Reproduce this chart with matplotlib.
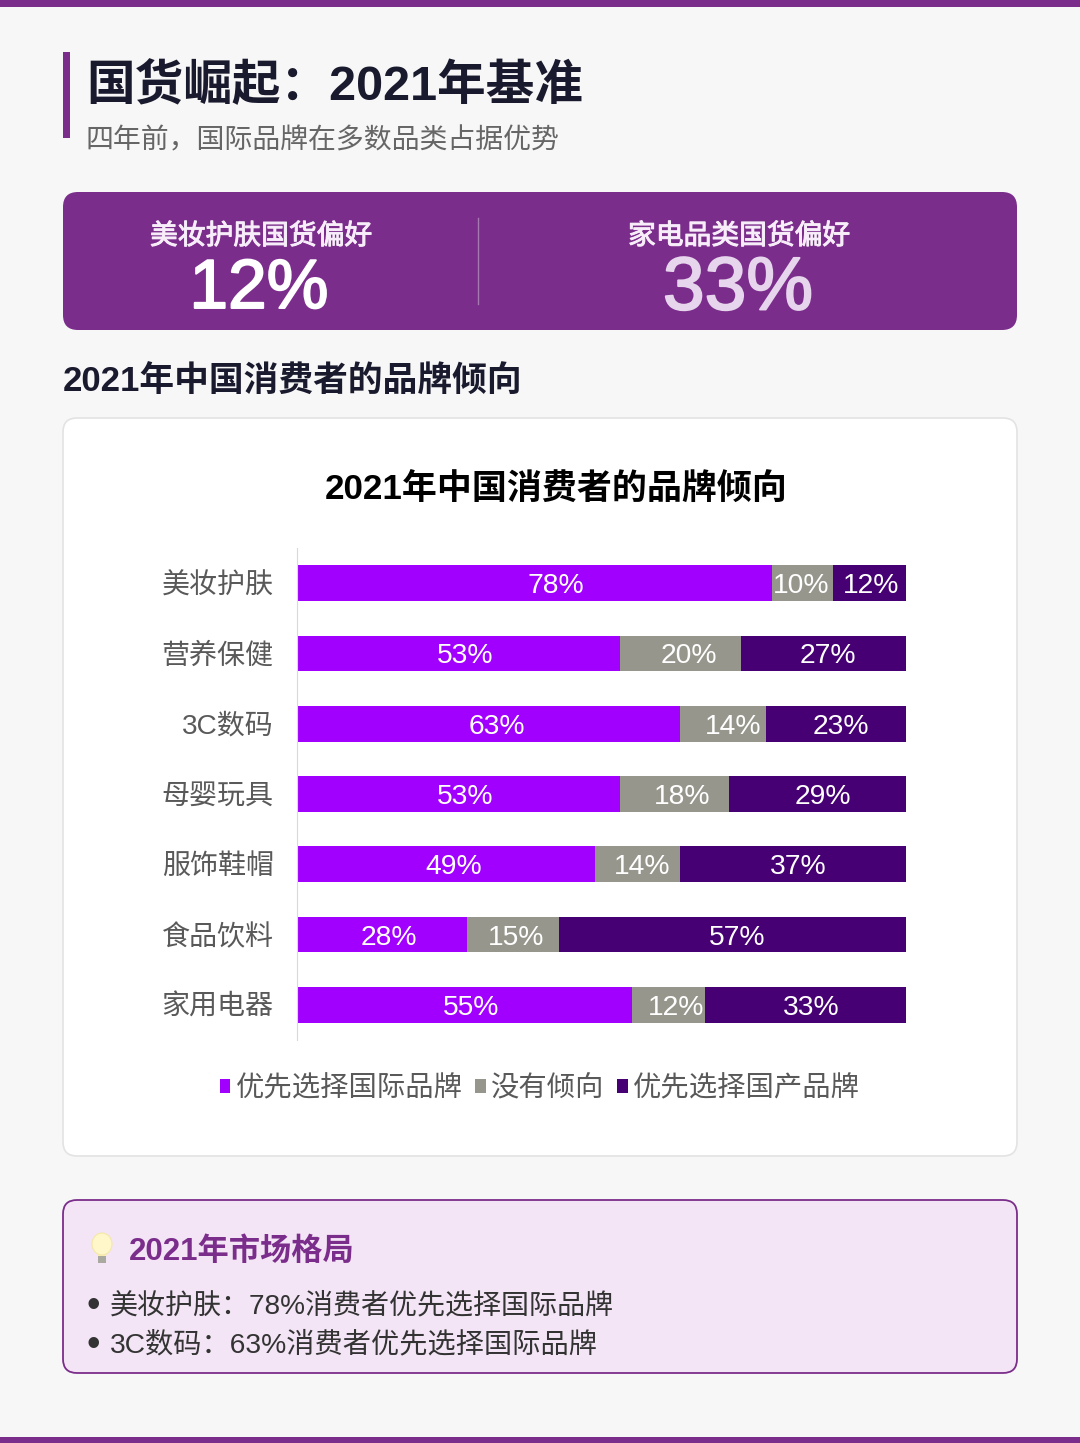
import matplotlib
matplotlib.use('Agg')
import matplotlib.patheffects as pe
import matplotlib.pyplot as plt
from matplotlib.patches import Ellipse, FancyBboxPatch, Polygon, Rectangle

plt.rcParams['font.family'] = ['Liberation Sans', 'Noto Sans CJK SC', 'DejaVu Sans']

categories = ['美妆护肤', '营养保健', '3C数码', '母婴玩具', '服饰鞋帽', '食品饮料', '家用电器']
international = [78, 53, 63, 53, 49, 28, 55]
neutral = [10, 20, 14, 18, 14, 15, 12]
domestic = [12, 27, 23, 29, 37, 57, 33]
series_names = ['优先选择国际品牌', '没有倾向', '优先选择国产品牌']
series_colors = ['#A100FF', '#96968C', '#460073']

PURPLE = '#7B2D8B'
DARK = '#1A1A2E'

fig = plt.figure(figsize=(10.8, 14.43), dpi=100, facecolor='#F7F7F7')

# whole page in pixel coordinates, y going down
page = fig.add_axes([0, 0, 1, 1])
page.set_xlim(0, 1080)
page.set_ylim(1443, 0)
page.axis('off')


def rounded(x0, y0, x1, y1, radius, face, edge='none', lw=0):
    page.add_patch(FancyBboxPatch((x0, y0), x1 - x0, y1 - y0,
                                  boxstyle=f'round,pad=0,rounding_size={radius}',
                                  facecolor=face, edgecolor=edge, linewidth=lw))


page.add_patch(Rectangle((0, 0), 1080, 7, color=PURPLE, lw=0))
page.add_patch(Rectangle((0, 1437), 1080, 6, color=PURPLE, lw=0))

# header
page.add_patch(Rectangle((63, 52), 7, 86, color=PURPLE, lw=0))
page.text(86, 87, '国货崛起：2021年基准', fontsize=35, fontweight='bold', color=DARK, va='center')
page.text(86, 141, '四年前，国际品牌在多数品类占据优势', fontsize=20.1, color='#666666', va='center')

# banner
rounded(63, 192, 1017, 330, 15, PURPLE)
page.plot([478, 478], [218, 304], color='#A679B1', lw=1)
for x, label in [(261, '美妆护肤国货偏好'), (739, '家电品类国货偏好')]:
    page.text(x, 237, label, fontsize=20, color='#F8EEFA', ha='center', va='center',
              path_effects=[pe.withStroke(linewidth=0.7, foreground='#F8EEFA')])
for x, label, color, size in [(259, '12%', 'white', 50), (738, '33%', '#E6D5EC', 54)]:
    page.text(x, 290, label, fontsize=size, color=color, ha='center', va='center',
              path_effects=[pe.withStroke(linewidth=1.4, foreground=color)])

page.text(63, 382, '2021年中国消费者的品牌倾向', fontsize=25, fontweight='bold', color=DARK, va='center')

# chart card
rounded(63, 418, 1017, 1156, 14, 'white', '#E3E3E3', 1.2)
page.text(556, 490, '2021年中国消费者的品牌倾向', fontsize=25.2, fontweight='bold', color='black', ha='center', va='center')

# callout
rounded(63, 1200, 1017, 1373, 14, '#F3E5F5', PURPLE, 1.3)
page.add_patch(Polygon([(96, 1250), (108, 1250), (106, 1256), (98, 1256)], color='#FCEFB4', lw=0))
page.add_patch(Ellipse((102, 1244), 20, 22, facecolor='#FFF6C9', edgecolor='#F4E7A8', lw=0.8))
page.add_patch(Rectangle((98, 1256), 8, 7, color='#A9A9A0', lw=0))
page.text(129, 1252, '2021年市场格局', fontsize=22.5, fontweight='bold', color=PURPLE, va='center')
page.text(86, 1307, '•', fontsize=28, color='#333333', va='center')
page.text(110, 1306, '美妆护肤：78%消费者优先选择国际品牌', fontsize=20.2, color='#333333', va='center')
page.text(86, 1346, '•', fontsize=28, color='#333333', va='center')
page.text(110, 1345, '3C数码：63%消费者优先选择国际品牌', fontsize=20.3, color='#333333', va='center')

# stacked bars
ax = fig.add_axes([296.5 / 1080, (1443 - 1040) / 1443, 609.5 / 1080, 492 / 1443])
ax.patch.set_alpha(0)

# labels do not sit on the exact segment centres in the original (pixels)
label_nudge = [[22, 7, 8, 7, 8, 7, 7],
               [-1, 8, 10, 8, 4, 3, 8],
               [2, 4, 5, 5, 5, 5, 6]]

left = [0] * len(categories)
for name, values, color, nudge in zip(series_names, [international, neutral, domestic], series_colors, label_nudge):
    bars = ax.barh(categories, values, left=left, height=0.51, color=color, label=name)
    labels = ax.bar_label(bars, fmt='%d%%', label_type='center', color='white', fontsize=20.3)
    for label, dx in zip(labels, nudge):
        label.xyann = (dx * 0.72, -2.2)
    left = [a + b for a, b in zip(left, values)]

ax.set_xlim(0, 100)
ax.set_ylim(len(categories) - 0.5, -0.5)
ax.set_xticks([])
ax.tick_params(axis='y', length=0, pad=16.5, labelsize=20.2, labelcolor='#595959')
for side in ['top', 'right', 'bottom']:
    ax.spines[side].set_visible(False)
ax.spines['left'].set_color('#D9D9D9')

ax.legend(loc='center', bbox_to_anchor=(540 / 1080, (1443 - 1089) / 1443),
          bbox_transform=fig.transFigure, ncol=3, frameon=False, fontsize=20.4,
          labelcolor='#595959', handlelength=0.36, handleheight=0.36,
          handletextpad=0.2, columnspacing=0.45, borderpad=0)

fig.savefig('out.png', dpi=100, facecolor=fig.get_facecolor())
